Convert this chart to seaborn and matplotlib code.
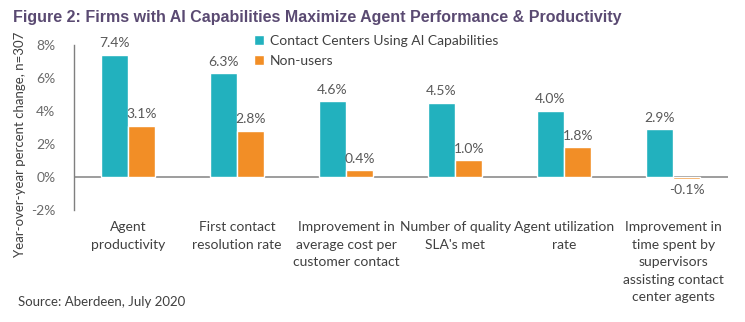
import matplotlib
matplotlib.use("Agg")
import matplotlib.pyplot as plt
import seaborn as sns
import pandas as pd

categories = [
    "Agent\nproductivity",
    "First contact\nresolution rate",
    "Improvement in\naverage cost per\ncustomer contact",
    "Number of quality\nSLA's met",
    "Agent utilization\nrate",
    "Improvement in\ntime spent by\nsupervisors\nassisting contact\ncenter agents",
]
series_names = ["Contact Centers Using AI Capabilities", "Non-users"]
ai_users = [7.4, 6.3, 4.6, 4.5, 4.0, 2.9]
non_users = [3.1, 2.8, 0.4, 1.0, 1.8, -0.1]
y_ticks = [-2, 0, 2, 4, 6, 8]

colors = ["#22B1BE", "#F28E26"]
grey = "#595959"

df = pd.DataFrame({
    "category": categories * 2,
    "series": [series_names[0]] * len(categories) + [series_names[1]] * len(categories),
    "value": ai_users + non_users,
})

sns.set_theme(style="white")
plt.rcParams["font.family"] = ["Lato", "DejaVu Sans"]

fig = plt.figure(figsize=(7.45, 3.22), dpi=100)
ax = fig.add_axes([0.0987, 0.348, 0.878, 0.512])

sns.barplot(data=df, x="category", y="value", hue="series", palette=colors,
            width=0.5, saturation=1, ax=ax, order=categories, hue_order=series_names)

for container in ax.containers:
    labels = [f"{v:.1f}%" for v in container.datavalues]
    ax.bar_label(container, labels=labels, padding=4, fontsize=10, color=grey)

ax.set_ylim(-2, 8)
ax.set_yticks(y_ticks)
ax.set_yticklabels([f"{t}%" for t in y_ticks], fontsize=10, color="#6a6a6a")
ax.tick_params(axis="y", length=0, pad=13)
ax.tick_params(axis="x", length=0, pad=8)
ax.set_xticks(range(len(categories)))
ax.set_xticklabels(categories, fontsize=10, color="#404040", linespacing=1.55, va="top")
ax.set_xlim(-0.5, len(categories) - 0.5)
ax.set_xlabel("")
ax.set_ylabel("Year-over-year percent change, n=307", fontsize=9.5, color="#404040")
ax.yaxis.set_label_coords(-0.073, 0.40)

for s in ["top", "right", "bottom"]:
    ax.spines[s].set_visible(False)
ax.spines["left"].set_color("#7f7f7f")
ax.spines["left"].set_linewidth(1)
ax.axhline(0, color="#8c8c8c", linewidth=1.2, zorder=0)

leg = ax.legend(loc="upper left", bbox_to_anchor=(0.268, 1.095), frameon=False,
                fontsize=10, handlelength=0.7, handleheight=0.7, handletextpad=0.4,
                labelspacing=0.55, borderaxespad=0)
for t in leg.get_texts():
    t.set_color("#404040")

fig.text(0.018, 0.945, "Figure 2: Firms with AI Capabilities Maximize Agent Performance & Productivity",
         fontsize=11.5, fontweight="bold", color="#5A4A72", family=["Liberation Sans", "DejaVu Sans"],
         va="center")
fig.text(0.024, 0.062, "Source: Aberdeen, July 2020", fontsize=9.5, color="#404040", va="center")

fig.savefig("out.png", dpi=100)
